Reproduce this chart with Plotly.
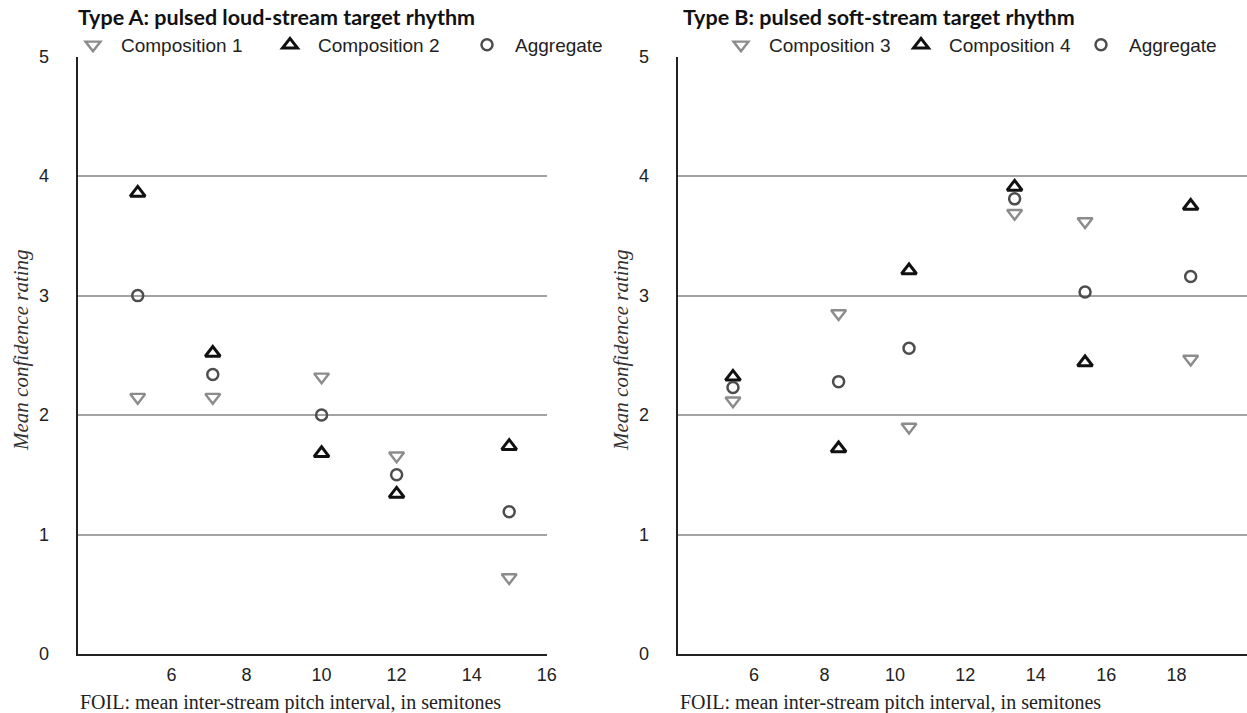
import plotly.graph_objects as go

# ---------------- data ----------------
x_typeA = [5.1, 7.1, 10, 12, 15]
comp1 = [2.15, 2.15, 2.32, 1.66, 0.64]
comp2 = [3.86, 2.52, 1.68, 1.34, 1.74]
agg_A = [3.00, 2.34, 2.00, 1.50, 1.19]

x_typeB = [5.4, 8.4, 10.4, 13.4, 15.4, 18.4]
comp3 = [2.12, 2.85, 1.90, 3.69, 3.62, 2.47]
comp4 = [2.32, 1.72, 3.21, 3.91, 2.44, 3.75]
agg_B = [2.23, 2.28, 2.56, 3.81, 3.03, 3.16]

xticks_A = [6, 8, 10, 12, 14, 16]
xticks_B = [6, 8, 10, 12, 14, 16, 18]
yticks = [0, 1, 2, 3, 4, 5]

title_A = "Type A: pulsed loud-stream target rhythm"
title_B = "Type B: pulsed soft-stream target rhythm"
xlabel = "FOIL: mean inter-stream pitch interval, in semitones"
ylabel = "Mean confidence rating"

# ---------------- layout helpers ----------------
W, H = 1247, 713
def fx(p):
    return p / W
def fy(p):
    return 1 - p / H

SANS = "Liberation Sans, Arial, sans-serif"
SERIF = "Liberation Serif, Times New Roman, serif"
TITLE = "Lato, Liberation Sans, sans-serif"

down_style = dict(symbol="triangle-down-open", size=13, color="#8c8c8c",
                  line=dict(width=2.4, color="#8c8c8c"))
up_style = dict(symbol="triangle-up-open", size=13, color="#111111",
                line=dict(width=3, color="#111111"))
circ_style = dict(symbol="circle-open", size=11, color="#4d4d4d",
                  line=dict(width=2.5, color="#4d4d4d"))

fig = go.Figure()
fig.add_trace(go.Scatter(x=x_typeA, y=comp1, mode="markers", name="Composition 1",
                         marker=down_style, xaxis="x", yaxis="y", legend="legend"))
fig.add_trace(go.Scatter(x=x_typeA, y=comp2, mode="markers", name="Composition 2",
                         marker=up_style, xaxis="x", yaxis="y", legend="legend"))
fig.add_trace(go.Scatter(x=x_typeA, y=agg_A, mode="markers", name="Aggregate",
                         marker=circ_style, xaxis="x", yaxis="y", legend="legend"))
fig.add_trace(go.Scatter(x=x_typeB, y=comp3, mode="markers", name="Composition 3",
                         marker=down_style, xaxis="x2", yaxis="y2", legend="legend2"))
fig.add_trace(go.Scatter(x=x_typeB, y=comp4, mode="markers", name="Composition 4",
                         marker=up_style, xaxis="x2", yaxis="y2", legend="legend2"))
fig.add_trace(go.Scatter(x=x_typeB, y=agg_B, mode="markers", name="Aggregate",
                         marker=circ_style, xaxis="x2", yaxis="y2", legend="legend2"))

ydom = [fy(654), fy(56.7)]
xax = dict(showline=True, linecolor="#222222", linewidth=2, showgrid=False,
           zeroline=False, ticks="", ticklabelstandoff=3, automargin=False,
           tickfont=dict(family=SANS, size=18, color="#222222"))
yax = dict(showline=True, linecolor="#222222", linewidth=2, showgrid=True,
           gridcolor="#a3a3a3", gridwidth=1.7, zeroline=False, ticks="",
           ticklabelstandoff=23, range=[0, 5], tickvals=yticks, domain=ydom,
           automargin=False,
           tickfont=dict(family=SANS, size=18, color="#222222"))

legend_common = dict(orientation="h", yanchor="middle", xanchor="left",
                     font=dict(family=SANS, size=19, color="#222222"),
                     bgcolor="rgba(0,0,0,0)", itemwidth=46,
                     entrywidthmode="pixels", itemclick=False, itemdoubleclick=False)

fig.update_layout(
    width=W, height=H,
    margin=dict(l=0, r=0, t=0, b=0, autoexpand=False),
    paper_bgcolor="white", plot_bgcolor="white",
    xaxis=dict(**xax, domain=[fx(77.7), fx(546.7)], range=[3.5, 16],
               tickvals=xticks_A, anchor="y"),
    yaxis=dict(**yax, anchor="x"),
    xaxis2=dict(**xax, domain=[fx(677.7), 1.0], range=[3.83, 20.0],
                tickvals=xticks_B, anchor="y2"),
    yaxis2=dict(**yax, anchor="x2"),
    legend=dict(**legend_common, x=fx(65), y=fy(45), entrywidth=136),
    legend2=dict(**legend_common, x=fx(713), y=fy(45), entrywidth=119),
    showlegend=True,
)

annots = [
    dict(text=title_A, x=fx(76), y=fy(17), xanchor="left", yanchor="middle"),
    dict(text=title_B, x=fx(681), y=fy(17), xanchor="left", yanchor="middle"),
]
for a in annots:
    a.update(xref="paper", yref="paper", showarrow=False,
             font=dict(family=TITLE, size=21.5, color="#111111", weight=700))
    fig.add_annotation(**a)

for xp in (77.7, 677.7):
    fig.add_annotation(text=xlabel, x=fx(xp), y=fy(702), xref="paper", yref="paper",
                       xanchor="left", yanchor="middle", showarrow=False,
                       font=dict(family=SERIF, size=20, color="#222222"))
for xp in (21, 621):
    fig.add_annotation(text="<i>" + ylabel + "</i>", x=fx(xp), y=fy(350),
                       xref="paper", yref="paper", xanchor="center", yanchor="middle",
                       textangle=-90, showarrow=False,
                       font=dict(family=SERIF, size=21, color="#333333"))

fig.write_html("out.html")
